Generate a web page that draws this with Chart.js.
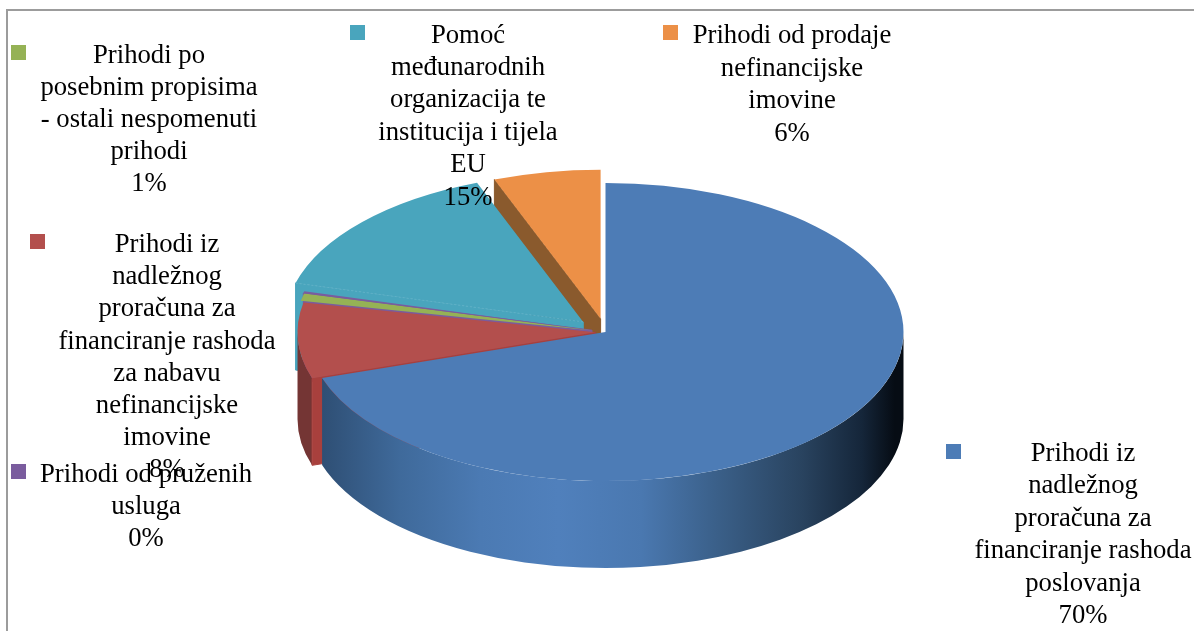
<!DOCTYPE html>
<html><head><meta charset="utf-8">
<script src="https://cdn.jsdelivr.net/npm/chart.js@4"></script>
<style>html,body{margin:0;padding:0;background:#fff}#w{width:1194px;height:631px;position:relative}</style>
</head><body><div id="w"><canvas id="c" width="1194" height="631"></canvas></div>
<script>
const categories = [
  'Prihodi iz nadležnog proračuna za financiranje rashoda poslovanja',
  'Prihodi iz nadležnog proračuna za financiranje rashoda za nabavu nefinancijske imovine',
  'Prihodi po posebnim propisima - ostali nespomenuti prihodi',
  'Prihodi od pruženih usluga',
  'Pomoć međunarodnih organizacija te institucija i tijela EU',
  'Prihodi od prodaje nefinancijske imovine'
];
const shares = [70, 8.2, 0.8, 0.2, 15, 5.8];
const labelLines = [
  ['Prihodi iz','nadležnog','proračuna za','financiranje rashoda','poslovanja'],
  ['Prihodi iz','nadležnog','proračuna za','financiranje rashoda','za nabavu','nefinancijske','imovine'],
  ['Prihodi po','posebnim propisima','- ostali nespomenuti','prihodi'],
  ['Prihodi od pruženih','usluga'],
  ['Pomoć','međunarodnih','organizacija te','institucija i tijela','EU'],
  ['Prihodi od prodaje','nefinancijske','imovine']
];
const topColors = ['#4d7cb6','#b34f4d','#95b255','#7a5c9e','#49a5bd','#ec9047'];
const explode = [0, 10, 13, 14, 30, 27];
const labelBoxes = [
  {sq:[946,444],cx:1083,y:460.5,lh:32.5},
  {sq:[30,234],cx:167,y:252,lh:32.2},
  {sq:[11,45],cx:149,y:63,lh:32},
  {sq:[11,464],cx:146,y:482,lh:32},
  {sq:[350,25],cx:468,y:42.5,lh:32.4},
  {sq:[663,25],cx:792,y:43,lh:32.6}
];
const K = 0.5, DEPTH = 87, FONT = '26.7px "Liberation Serif"';

function addStops(g, stops){ stops.forEach(s=>g.addColorStop(s[0],s[1])); }

const pie3d = {
  id:'pie3d',
  beforeDraw(chart){
    const c = chart.ctx;
    c.save(); c.strokeStyle='#9c9c9c'; c.lineWidth=2;
    c.beginPath(); c.moveTo(7,631); c.lineTo(7,10); c.lineTo(1194,10); c.stroke(); c.restore();
  },
  beforeDatasetDraw(chart){
    const c = chart.ctx, arcs = chart.getDatasetMeta(0).data;
    const geo = arcs.map((a,i)=>{
      const mid=(a.startAngle+a.endAngle)/2, e=explode[i];
      return {dx:Math.cos(mid)*e, dy:Math.sin(mid)*e, x:a.x+Math.cos(mid)*e, y:a.y+Math.sin(mid)*e*K, s:a.startAngle, t:a.endAngle, r:a.outerRadius};
    });
    const outer=(g,a0,a1,fill)=>{
      c.beginPath();
      c.ellipse(g.x,g.y,g.r,g.r*K,0,a0,a1,false);
      c.ellipse(g.x,g.y+DEPTH,g.r,g.r*K,0,a1,a0,true);
      c.closePath(); c.fillStyle=fill; c.fill();
    };
    const cut=(g,a,fill)=>{
      const px=g.x+Math.cos(a)*g.r, py=g.y+Math.sin(a)*g.r*K;
      c.beginPath(); c.moveTo(g.x,g.y); c.lineTo(px,py); c.lineTo(px,py+DEPTH); c.lineTo(g.x,g.y+DEPTH);
      c.closePath(); c.fillStyle=fill; c.strokeStyle=fill; c.lineWidth=1; c.fill(); c.stroke();
    };
    cut(geo[5],geo[5].s,'#8a5a2d');
    cut(geo[4],geo[4].s,topColors[4]);
    cut(geo[3],geo[3].s,topColors[3]);
    const red=geo[1];
    outer(red,red.s,Math.PI,'#743534');
    cut(red,red.s,'#a8403d');
    const b=geo[0];
    const g=c.createLinearGradient(b.x-b.r,0,b.x+b.r,0);
    addStops(g,[[0.02,'#2e4e73'],[0.156,'#3f6a9b'],[0.29,'#4b7ab3'],[0.42,'#5080bc'],[0.56,'#4a78b0'],[0.69,'#3a5f88'],[0.83,'#29435f'],[0.93,'#15263a'],[0.985,'#060c14']]);
    outer(b,0,b.t,g);
    // top faces: the library's own arc elements, squashed and exploded
    arcs.forEach((a,i)=>{
      c.save();
      c.translate(0,a.y); c.scale(1,K); c.translate(geo[i].dx,-a.y+geo[i].dy);
      a.draw(c,chart.chartArea);
      c.restore();
    });
    // faint dashed edge along the teal slice
    const t=geo[4];
    c.save(); c.setLineDash([2,2]); c.strokeStyle='#5fb0c6'; c.lineWidth=1;
    c.beginPath(); c.moveTo(t.x+Math.cos(t.s)*t.r,t.y+Math.sin(t.s)*t.r*K); c.lineTo(t.x,t.y); c.stroke(); c.restore();
    return false;
  },
  afterDraw(chart){
    const c=chart.ctx, total=shares.reduce((a,b)=>a+b,0);
    c.save(); c.font=FONT; c.textAlign='center'; c.textBaseline='alphabetic';
    labelBoxes.forEach((b,i)=>{
      c.fillStyle=topColors[i]; c.fillRect(b.sq[0],b.sq[1],15,15); c.fillStyle='#000';
      const lines=labelLines[i].concat([Math.round(shares[i]/total*100)+'%']);
      lines.forEach((t,j)=>c.fillText(t,b.cx,b.y+j*b.lh));
    });
    c.restore();
  }
};

new Chart(document.getElementById('c'),{
  type:'pie',
  data:{labels:categories,datasets:[{data:shares,backgroundColor:topColors,borderWidth:0,hoverOffset:0,radius:298,clip:false}]},
  options:{responsive:false,animation:false,events:[],
    layout:{padding:{left:17,top:33,right:0,bottom:0}},
    plugins:{legend:{display:false},tooltip:{enabled:false}}},
  plugins:[pie3d]
});
</script></body></html>
